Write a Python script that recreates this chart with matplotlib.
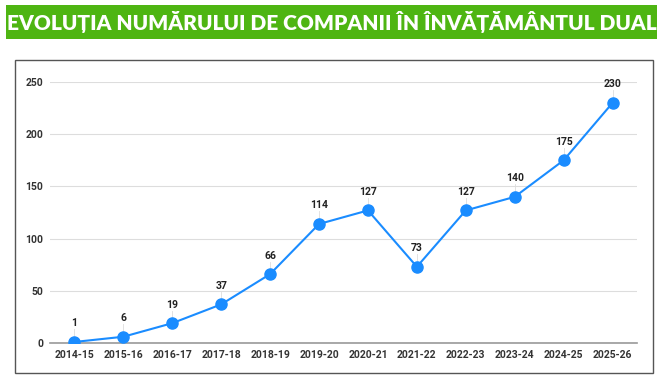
import matplotlib.pyplot as plt
from matplotlib.patches import Rectangle

years = ['2014-15', '2015-16', '2016-17', '2017-18', '2018-19', '2019-20',
         '2020-21', '2021-22', '2022-23', '2023-24', '2024-25', '2025-26']
companies = [1, 6, 19, 37, 66, 114, 127, 73, 127, 140, 175, 230]
yticks = [0, 50, 100, 150, 200, 250]
title = 'EVOLUȚIA NUMĂRULUI DE COMPANII ÎN ÎNVĂȚĂMÂNTUL DUAL'

W, H = 657, 380
fig = plt.figure(figsize=(W / 100, H / 100), dpi=100)
fig.patch.set_facecolor('white')

# green title banner
fig.patches.append(Rectangle((6 / W, 1 - 39 / H), 1, 34 / H, transform=fig.transFigure,
                             facecolor='#4eb512', edgecolor='none', zorder=0))
fig.text(7 / W, 1 - 22 / H, title, color='white', fontsize=15, fontweight='heavy',
         family='Lato', va='center', ha='left')

# gray frame around the chart
fig.patches.append(Rectangle((15 / W, 1 - 373 / H), 638 / W, 313 / H, transform=fig.transFigure,
                             facecolor='white', edgecolor='#555555', lw=1.0, zorder=0))

ax = fig.add_axes([50 / W, 1 - 343 / H, 587 / W, 261 / H], zorder=2)
x = list(range(len(years)))
ax.plot(x, companies, color='#1a8cff', lw=1.5, marker='o', markersize=8, zorder=3)

for xi, v in zip(x, companies):
    ax.plot([xi, xi], [v + 4, v + 12], color='#dddddd', lw=0.6, zorder=2)
    ax.text(xi, v + 13, str(v), ha='center', va='bottom', fontsize=7.5,
            fontweight='bold', family='Roboto', color='#222222')

ax.set_ylim(0, 250)
ax.set_xlim(-0.5, len(years) - 0.5)
ax.set_yticks(yticks)
ax.set_xticks(x)
ax.set_xticklabels(years)
for lab in ax.get_xticklabels() + ax.get_yticklabels():
    lab.set_fontsize(7.5)
    lab.set_fontweight('bold')
    lab.set_family('Roboto')
    lab.set_color('#333333')
ax.tick_params(length=0, pad=5)
ax.grid(axis='y', color='#dddddd', lw=0.8)
ax.set_axisbelow(True)
for s in ['top', 'right', 'left']:
    ax.spines[s].set_visible(False)
ax.spines['bottom'].set_color('#999999')
ax.spines['bottom'].set_linewidth(1.2)
ax.patch.set_alpha(0)

fig.savefig('out.png', dpi=100)
